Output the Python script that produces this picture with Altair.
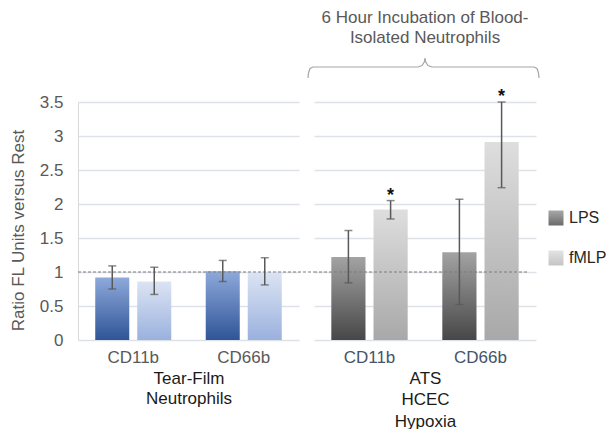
import altair as alt
import pandas as pd

FONT = "Liberation Sans"

# ---------------- data ----------------
MARKERS = ["CD11b", "CD66b"]

tf_marker = ["CD11b", "CD11b", "CD66b", "CD66b"]
tf_series = ["Dark", "Light", "Dark", "Light"]
tf_mean = [0.92, 0.86, 1.01, 1.00]
tf_low = [0.75, 0.67, 0.86, 0.81]
tf_high = [1.09, 1.07, 1.17, 1.21]
tf_sig = ["", "", "", ""]

bi_marker = ["CD11b", "CD11b", "CD66b", "CD66b"]
bi_series = ["LPS", "fMLP", "LPS", "fMLP"]
bi_mean = [1.22, 1.92, 1.29, 2.91]
bi_low = [0.84, 1.78, 0.52, 2.24]
bi_high = [1.61, 2.05, 2.07, 3.50]
bi_sig = ["", "*", "", "*"]

y_ticks = [0, 0.5, 1, 1.5, 2, 2.5, 3, 3.5]
reference_level = [1.0]
legend_names = ["LPS", "fMLP"]
title_lines = ["6 Hour Incubation of Blood-", "Isolated Neutrophils"]
tf_group = ["Tear-Film", "Neutrophils"]
bi_group = ["ATS", "HCEC", "Hypoxia"]
y_title = "Ratio FL Units versus Rest"

tf_df = pd.DataFrame({"marker": tf_marker, "series": tf_series, "mean": tf_mean,
                      "low": tf_low, "high": tf_high, "sig": tf_sig})
bi_df = pd.DataFrame({"marker": bi_marker, "series": bi_series, "mean": bi_mean,
                      "low": bi_low, "high": bi_high, "sig": bi_sig})

# ---------------- styling ----------------
PANEL_H = 238
LEFT_W = 221
RIGHT_W = 222
GAP = 15
GRID = "#DDE1E8"
EB = "#595959"


def grad(bottom, top):
    return alt.Gradient(
        gradient="linear",
        stops=[alt.GradientStop(color=bottom, offset=0),
               alt.GradientStop(color=top, offset=1)],
        x1=0, x2=0, y1=1, y2=0,
    )


def panel(df, series, fills, left_axis, group_title, label_color, line_h, ref_x1, ref_x2):
    x = alt.X(
        "marker:N", sort=MARKERS,
        scale=alt.Scale(domain=MARKERS, paddingInner=0.312, paddingOuter=0.156),
        axis=alt.Axis(title=group_title, labelAngle=0, domain=False, ticks=False,
                      labelPadding=9, labelColor=label_color, labelFontSize=17,
                      labelFont=FONT, titleFont=FONT, titleFontSize=17,
                      titleColor="#1a1a1a", titleFontWeight="normal",
                      titlePadding=5, titleLineHeight=line_h, grid=False),
    )
    xo = alt.XOffset("series:N", scale=alt.Scale(domain=series, paddingInner=0.19, paddingOuter=0))
    if left_axis:
        yaxis = alt.Axis(values=y_ticks, labelExpr="'' + datum.value", title=y_title,
                         grid=True, gridColor=GRID, gridWidth=1.5, domain=True,
                         domainColor="#D9D9D9", domainWidth=1, ticks=False,
                         labelPadding=15, labelFontSize=17, labelFont=FONT,
                         labelColor="#595959", titleFont=FONT, titleFontSize=17,
                         titleColor="#595959", titleFontWeight="normal",
                         titlePadding=12, titleY=128)
    else:
        yaxis = alt.Axis(values=y_ticks, labels=False, title=None, grid=True,
                         gridColor=GRID, gridWidth=1.5, domain=False, ticks=False)

    def Y(field):
        return alt.Y(f"{field}:Q", scale=alt.Scale(domain=[0, 3.5], nice=False), axis=yaxis)

    base = alt.Chart(df).encode(x=x, xOffset=xo)
    layers = []
    for s, (bot, top) in zip(series, fills):
        layers.append(
            base.transform_filter(alt.datum.series == s)
            .mark_bar(fill=grad(bot, top))
            .encode(y=Y("mean"))
        )
    ref = alt.Chart(pd.DataFrame({"ref": reference_level})).mark_rule(
        strokeDash=[3, 2], color="#7F7F7F", strokeWidth=1.2
    ).encode(y=Y("ref"), x=alt.value(ref_x1), x2=alt.value(ref_x2))
    layers.append(ref)
    layers.append(base.mark_rule(color=EB, strokeWidth=1.5).encode(y=Y("low"), y2="high:Q"))
    layers.append(base.mark_tick(color=EB, thickness=1.5, size=8).encode(y=Y("low")))
    layers.append(base.mark_tick(color=EB, thickness=1.5, size=8).encode(y=Y("high")))
    layers.append(
        base.transform_filter(alt.datum.sig != "")
        .mark_text(font=FONT, fontSize=18, fontWeight="bold", color="#111111",
                   baseline="alphabetic", dy=0)
        .encode(y=Y("high"), text="sig:N")
    )
    return layers


left_layers = panel(tf_df, ["Dark", "Light"],
                    [("#2F5597", "#8EA9DB"), ("#9AB1DE", "#DCE4F3")],
                    True, tf_group, "#595959", 20, 0, LEFT_W + GAP)
left = alt.layer(*left_layers).properties(width=LEFT_W, height=PANEL_H)

right_layers = panel(bi_df, ["LPS", "fMLP"],
                     [("#474747", "#A3A3A3"), ("#A8A8A8", "#DEDEDE")],
                     False, bi_group, "#44546A", 21.5, 0, 215)


def brace_frame(x0, x1, xm, y_end, y_bar, y_peak):
    pts = [
        (x0, y_end), (x0 + 0.5, y_end - 5), (x0 + 2, y_bar + 1.5), (x0 + 5, y_bar),
        (xm - 7, y_bar), (xm - 3, y_bar - 1.5), (xm - 0.7, y_bar - 5), (xm, y_peak),
        (xm + 0.7, y_bar - 5), (xm + 3, y_bar - 1.5), (xm + 7, y_bar),
        (x1 - 5, y_bar), (x1 - 2, y_bar + 1.5), (x1 - 0.5, y_end - 5), (x1, y_end),
    ]
    return pd.DataFrame({"bx": [p[0] for p in pts], "by": [p[1] for p in pts],
                         "o": list(range(len(pts)))})


brace = alt.Chart(brace_frame(-6, 225, 111, -24, -35, -44)).mark_line(
    color="#A6A6A6", strokeWidth=1.2
).encode(
    x=alt.X("bx:Q", scale=None, axis=None),
    y=alt.Y("by:Q", scale=None, axis=None),
    order="o:Q",
)

heading = alt.Chart(pd.DataFrame({"k": [0]})).mark_text(
    text=title_lines, font=FONT, fontSize=17, color="#595959",
    lineHeight=20, align="center", baseline="middle"
).encode(x=alt.value(111), y=alt.value(-84))

right = alt.layer(*right_layers, brace, heading).properties(width=RIGHT_W, height=PANEL_H)

# legend panel
leg = alt.Chart(pd.DataFrame({"name": legend_names}))
ly = alt.Y("name:N", scale=alt.Scale(type="point", domain=legend_names, range=[116, 156], padding=0),
           axis=None)
leg_fills = [("#6B6B6B", "#A8A8A8"), ("#C4C4C4", "#E3E3E3")]
leg_layers = []
for name, (b, t) in zip(legend_names, leg_fills):
    leg_layers.append(
        leg.transform_filter(alt.datum.name == name)
        .mark_square(size=225, fill=grad(b, t), opacity=1, filled=True)
        .encode(y=ly, x=alt.value(5))
    )
leg_layers.append(
    leg.mark_text(align="left", baseline="middle", font=FONT, fontSize=16, color="#262626")
    .encode(y=ly, x=alt.value(18), text="name:N")
)
legend = alt.layer(*leg_layers).properties(width=56, height=PANEL_H)

chart = alt.hconcat(left, right, legend, spacing=GAP, bounds="flush").resolve_scale(
    xOffset="independent"
).properties(
    padding={"left": 9, "top": 9, "right": 0, "bottom": 0}
).configure_view(stroke=None)

chart.save("out.html", embed_options={"renderer": "svg", "actions": False})
